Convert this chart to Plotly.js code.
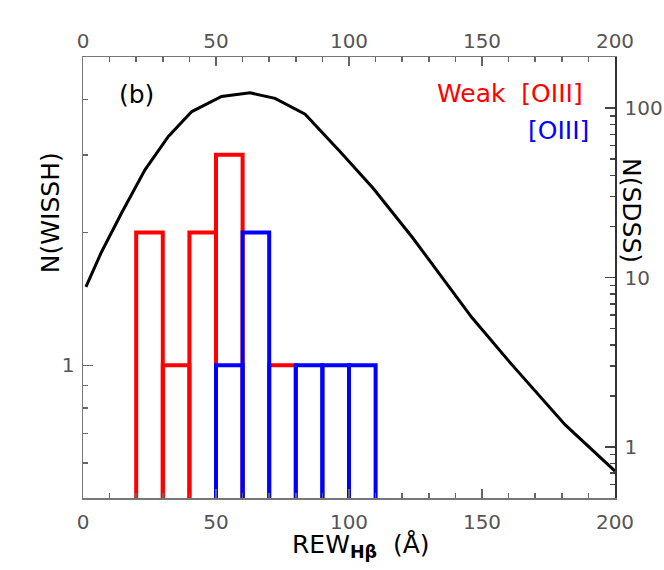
<!DOCTYPE html>
<html>
<head>
<meta charset="utf-8">
<script src="https://cdn.plot.ly/plotly-3.0.1.min.js"></script>
<style>
  body { margin: 0; background: #fff; }
  #chart { width: 664px; height: 570px; }
</style>
</head>
<body>
<div id="chart"></div>
<script>
// histogram bins (left edges, width 10 A) and counts
var binWidth = 10;
var weakEdges = [20, 30, 40, 50, 70];
var weakCounts = [2, 1, 2, 3, 1];
var oiiiEdges = [50, 60, 80, 90, 100];
var oiiiCounts = [1, 2, 1, 1, 1];

// SDSS distribution (right axis)
var sdssRew = [1.1, 7.0, 14.5, 23.3, 32.1, 40.9, 52.1, 62.8, 72.2, 83.5, 96.6, 109, 124, 136.8, 146.2, 161.3, 181.3, 200];
var sdssN = [8.8, 14.2, 24.0, 43.2, 67.9, 95.3, 117, 123, 114, 92, 55.4, 33.7, 17.1, 9.1, 5.8, 3.05, 1.35, 0.72];

var xTicks = [0, 50, 100, 150, 200];
var leftTicks = [1];
var leftMinor = [0.6, 0.7, 0.8, 0.9, 2, 3, 4];
var rightTicks = [1, 10, 100];
var rightMinor = [0.6, 0.7, 0.8, 0.9, 2, 3, 4, 5, 6, 7, 8, 9, 20, 30, 40, 50, 60, 70, 80, 90, 200];

function centers(edges) {
  return edges.map(function (e) { return e + binWidth / 2; });
}

var FONT = "DejaVu Sans, sans-serif";
var tickFont = { family: FONT, size: 20, color: "#555" };

var traces = [
  {
    type: "bar",
    x: centers(weakEdges),
    y: weakCounts,
    width: binWidth,
    marker: { color: "rgba(0,0,0,0)", line: { color: "#ff0000", width: 4 } },
    xaxis: "x",
    yaxis: "y",
    hoverinfo: "skip",
  },
  {
    type: "bar",
    x: centers(oiiiEdges),
    y: oiiiCounts,
    width: binWidth,
    marker: { color: "rgba(0,0,0,0)", line: { color: "#0000ff", width: 4 } },
    xaxis: "x",
    yaxis: "y",
    hoverinfo: "skip",
  },
  {
    type: "scatter",
    mode: "lines",
    x: sdssRew,
    y: sdssN,
    line: { color: "#000", width: 3 },
    xaxis: "x2",
    yaxis: "y2",
    hoverinfo: "skip",
  },
];

var xCommon = {
  range: [0, 200],
  tickmode: "array",
  tickvals: xTicks,
  ticks: "inside",
  ticklen: 9,
  tickwidth: 1.5,
  tickcolor: "#666",
  minor: { dtick: 10, ticks: "inside", ticklen: 5, tickwidth: 1.5, tickcolor: "#666" },
  showline: true,
  linecolor: "#777",
  linewidth: 1.5,
  showgrid: false,
  zeroline: false,
  tickfont: tickFont,
  fixedrange: true,
};

var layout = {
  width: 664,
  height: 570,
  margin: { l: 83, r: 49, t: 57, b: 72 },
  paper_bgcolor: "#fff",
  plot_bgcolor: "#fff",
  showlegend: false,
  barmode: "overlay",
  font: { family: FONT },
  xaxis: Object.assign({}, xCommon, { side: "bottom", anchor: "y", ticklabelstandoff: 5 }),
  xaxis2: Object.assign({}, xCommon, { side: "top", overlaying: "x", anchor: "y", ticklabelstandoff: 0 }),
  yaxis: {
    type: "log",
    range: [Math.log10(0.5), Math.log10(5)],
    tickmode: "array",
    tickvals: leftTicks,
    ticktext: leftTicks.map(String),
    ticks: "inside",
    ticklen: 10,
    tickwidth: 1.5,
    tickcolor: "#666",
    minor: { tickmode: "array", tickvals: leftMinor, ticks: "inside", ticklen: 5, tickwidth: 1.5, tickcolor: "#666" },
    showline: true,
    linecolor: "#777",
    linewidth: 1.5,
    showgrid: false,
    zeroline: false,
    tickfont: tickFont,
    ticklabelstandoff: 3,
    fixedrange: true,
  },
  yaxis2: {
    type: "log",
    overlaying: "y",
    side: "right",
    anchor: "x",
    range: [Math.log10(0.5), Math.log10(200)],
    tickmode: "array",
    tickvals: rightTicks,
    ticktext: rightTicks.map(String),
    ticks: "inside",
    ticklen: 10,
    tickwidth: 1.5,
    tickcolor: "#444",
    minor: { tickmode: "array", tickvals: rightMinor, ticks: "inside", ticklen: 5, tickwidth: 1.5, tickcolor: "#444" },
    showline: true,
    linecolor: "#333",
    linewidth: 1.5,
    showgrid: false,
    zeroline: false,
    tickfont: tickFont,
    ticklabelstandoff: 4,
    fixedrange: true,
  },
  annotations: [
    {
      text: "N(WISSH)", xref: "paper", yref: "paper",
      x: -0.062, y: 0.646, xanchor: "center", yanchor: "middle",
      textangle: -90, showarrow: false,
      font: { family: FONT, size: 25, color: "#000" },
    },
    {
      text: "N(SDSS)", xref: "paper", yref: "paper",
      x: 1.032, y: 0.653, xanchor: "center", yanchor: "middle",
      textangle: 90, showarrow: false,
      font: { family: FONT, size: 25, color: "#000" },
    },
    {
      text: "REW<sub><b>Hβ</b></sub>  (Å)", xref: "paper", yref: "paper",
      x: 0.522, y: -0.068, xanchor: "center", yanchor: "top",
      showarrow: false,
      font: { family: FONT, size: 25, color: "#000" },
    },
    {
      text: "(b)", xref: "paper", yref: "paper",
      x: 0.1, y: 0.916, xanchor: "center", yanchor: "middle",
      showarrow: false,
      font: { family: FONT, size: 25, color: "#000" },
    },
    {
      text: "Weak  [OIII]", xref: "paper", yref: "paper",
      x: 0.944, y: 0.918, xanchor: "right", yanchor: "middle",
      showarrow: false,
      font: { family: FONT, size: 25, color: "#ff0000" },
    },
    {
      text: "[OIII]", xref: "paper", yref: "paper",
      x: 0.954, y: 0.834, xanchor: "right", yanchor: "middle",
      showarrow: false,
      font: { family: FONT, size: 25, color: "#0000ff" },
    },
  ],
};

Plotly.newPlot("chart", traces, layout, { displayModeBar: false, staticPlot: true });
</script>
</body>
</html>
